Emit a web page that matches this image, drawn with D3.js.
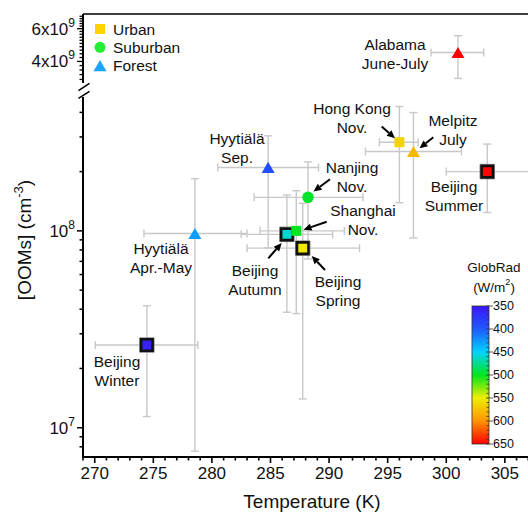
<!DOCTYPE html>
<html>
<head>
<meta charset="utf-8">
<script src="https://cdn.jsdelivr.net/npm/d3@7"></script>
<style>
  html, body { margin: 0; padding: 0; background: #fff; }
  svg { display: block; font-family: "Liberation Sans", Arial, sans-serif; }
</style>
</head>
<body>
<svg id="chart" width="528" height="513"></svg>
<script>
// ---- data ----
const sites      = ["Beijing Winter", "Hyytiälä Apr.-May", "Hyytiälä Sep.", "Beijing Autumn", "Shanghai Nov.", "Nanjing Nov.", "Beijing Spring", "Hong Kong Nov.", "Melpitz July", "Beijing Summer", "Alabama June-July"];
const siteType   = ["urban", "forest", "forest", "urban", "urban", "suburban", "urban", "urban", "forest", "urban", "forest"];
const boxed      = [true, false, false, true, false, false, true, false, false, true, false];
const temperature = [274.45, 278.55, 284.8, 286.4, 287.2, 288.2, 287.75, 296.0, 297.2, 303.5, 301.0];
const tempLow     = [270.05, 274.2, 280.5, 282.5, 284.1, 283.6, 283.0, 294.3, 293.1, 300.0, 298.7];
const tempHigh    = [278.8, 283.0, 289.1, 290.3, 291.3, 292.9, 292.6, 297.6, 301.3, 307.5, 303.2];
const ooms        = [2.63e7, 9.7e7, 2.1e8, 9.6e7, 1.0e8, 1.48e8, 8.17e7, 2.82e8, 2.53e8, 2.0e8, 4.47e9];
const oomsLow     = [1.14e7, 7.6e6, 8.2e7, 3.86e7, 3.8e7, 7.2e7, 1.4e7, 1.39e8, 9.2e7, 1.24e8, 3.24e9];
const oomsHigh    = [4.16e7, 1.84e8, 3.04e8, 1.52e8, 1.6e8, 2.24e8, 1.38e8, 4.28e8, 3.99e8, 2.76e8, 5.5e9];
const globRad     = [360, 428, 390, 460, 500, 498, 552, 565, 580, 648, 650];

// annotation text, two lines per site
const labelLines = [["Beijing", "Winter"], ["Hyytiälä", "Apr.-May"], ["Hyytiälä", "Sep."], ["Beijing", "Autumn"], ["Shanghai", "Nov."], ["Nanjing", "Nov."], ["Beijing", "Spring"], ["Hong Kong", "Nov."], ["Melpitz", "July"], ["Beijing", "Summer"], ["Alabama", "June-July"]];

const xTicks = [270, 275, 280, 285, 290, 295, 300, 305];
const yLowTicks = [1e7, 1e8];
const yHighTicks = [4e9, 6e9];
const radTicks = [350, 400, 450, 500, 550, 600, 650];
const radStops = ["#3c14ff", "#1e5aff", "#00d2ff", "#00e61e", "#f0ee00", "#ff9400", "#ff0000"];
const legendNames = ["Urban", "Suburban", "Forest"];
const legendTypes = ["urban", "suburban", "forest"];
const legendColors = ["#ffd200", "#22ee33", "#18a4ff"];

// ---- layout ----
const svg = d3.select("#chart");
const plotLeft = 83, plotBottom = 457, plotTop = 14, plotRight = 540;
const breakTop = 82, breakBottom = 95;

const x = d3.scaleLinear().domain([269, 308]).range([plotLeft, plotRight]);
const yLow = d3.scaleLog().domain([7.1e6, 4.9e8]).range([plotBottom, breakBottom]);
const yHigh = d3.scaleLog().domain([3.1e9, 7.2e9]).range([breakTop, plotTop]);
const y = v => v >= 2e9 ? yHigh(v) : yLow(v);
const color = d3.scaleLinear().domain(radTicks).range(radStops).interpolate(d3.interpolateRgb);

const idx = d3.range(sites.length);

// ---- error bars ----
const eb = svg.append("g").attr("stroke", "#c8c8c8").attr("stroke-width", 1.4).attr("fill", "none");
const cap = 4;
idx.forEach(i => {
  const cx = x(temperature[i]), cy = y(ooms[i]);
  const x0 = x(tempLow[i]), x1 = x(tempHigh[i]);
  const y0 = y(oomsLow[i]), y1 = y(oomsHigh[i]);
  eb.append("line").attr("x1", x0).attr("x2", x1).attr("y1", cy).attr("y2", cy);
  eb.append("line").attr("x1", x0).attr("x2", x0).attr("y1", cy - cap).attr("y2", cy + cap);
  eb.append("line").attr("x1", x1).attr("x2", x1).attr("y1", cy - cap).attr("y2", cy + cap);
  eb.append("line").attr("x1", cx).attr("x2", cx).attr("y1", y0).attr("y2", y1);
  eb.append("line").attr("x1", cx - cap).attr("x2", cx + cap).attr("y1", y0).attr("y2", y0);
  eb.append("line").attr("x1", cx - cap).attr("x2", cx + cap).attr("y1", y1).attr("y2", y1);
});

// ---- markers ----
function shapePath(type, s) {
  if (type === "urban") return `M${-s/2},${-s/2}h${s}v${s}h${-s}Z`;
  if (type === "suburban") { const r = s / 2; return `M${r},0A${r},${r} 0 1,1 ${-r},0A${r},${r} 0 1,1 ${r},0Z`; }
  const h = s * 0.86;
  return `M0,${-h/2}L${s/2},${h/2}L${-s/2},${h/2}Z`;
}
const mk = svg.append("g");
idx.forEach(i => {
  const g = mk.append("g").attr("transform", `translate(${x(temperature[i])},${y(ooms[i])})`);
  if (boxed[i]) {
    g.append("path").attr("d", shapePath("urban", 14.5)).attr("fill", "none").attr("stroke", "#8a8a8a").attr("stroke-width", 1);
    g.append("path").attr("d", shapePath("urban", 11.5)).attr("fill", color(globRad[i])).attr("stroke", "#111").attr("stroke-width", 2.6);
  } else {
    const size = siteType[i] === "urban" ? 10 : (siteType[i] === "suburban" ? 11.5 : 13);
    g.append("path").attr("d", shapePath(siteType[i], size)).attr("fill", color(globRad[i]));
  }
});

// ---- annotations ----
const labelPos = [[117, 361], [161, 248], [237, 138], [255, 270], [363, 210], [352, 167], [338, 281], [352, 108], [453, 120], [454, 186], [395, 44]];
const ann = svg.append("g").attr("font-size", "15.5px").attr("fill", "#111").attr("text-anchor", "middle");
idx.forEach(i => {
  const t = ann.append("text").attr("x", labelPos[i][0]).attr("y", labelPos[i][1]).attr("dominant-baseline", "central");
  labelLines[i].forEach((ln, k) => t.append("tspan").attr("x", labelPos[i][0]).attr("dy", k === 0 ? 0 : 19).text(ln));
});

// arrows: [tail, head] in pixels
const arrows = [
  [[268.3, 258.3], [281.7, 243]],
  [[326.7, 221.7], [303.5, 229.7]],
  [[330, 179.3], [313.5, 191.5]],
  [[325, 270], [311.7, 256]],
  [[381.7, 126.5], [395, 138.3]],
  [[433.3, 137.3], [419.5, 148.3]]
];
const ar = svg.append("g");
arrows.forEach(([a, b]) => {
  const dx = b[0] - a[0], dy = b[1] - a[1], L = Math.hypot(dx, dy);
  const ux = dx / L, uy = dy / L, hl = 8, hw = 3.6;
  const bx = b[0] - ux * hl, by = b[1] - uy * hl;
  ar.append("line").attr("x1", a[0]).attr("y1", a[1]).attr("x2", bx).attr("y2", by).attr("stroke", "#000").attr("stroke-width", 2);
  ar.append("path").attr("d", `M${b[0]},${b[1]}L${bx - uy * hw},${by + ux * hw}L${bx + uy * hw},${by - ux * hw}Z`).attr("fill", "#000");
});

// ---- axes ----
const axes = svg.append("g").attr("stroke", "#000");
// top frame line
axes.append("line").attr("x1", plotLeft).attr("x2", 528).attr("y1", plotTop).attr("y2", plotTop).attr("stroke-width", 1.6);
// bottom axis
axes.append("line").attr("x1", plotLeft - 1).attr("x2", 528).attr("y1", plotBottom).attr("y2", plotBottom).attr("stroke-width", 2);
d3.range(269, 309).forEach(v => {
  const major = xTicks.includes(v);
  axes.append("line").attr("x1", x(v)).attr("x2", x(v)).attr("y1", plotBottom).attr("y2", plotBottom + (major ? 6 : 3.5)).attr("stroke-width", 1.6);
});
// left axis, two segments with a break
axes.append("line").attr("x1", plotLeft).attr("x2", plotLeft).attr("y1", plotTop).attr("y2", breakTop + 1).attr("stroke-width", 2);
axes.append("line").attr("x1", plotLeft).attr("x2", plotLeft).attr("y1", breakBottom + 2).attr("y2", plotBottom + 1).attr("stroke-width", 2);
axes.append("line").attr("x1", 78.5).attr("y1", 90.7).attr("x2", 89.5).attr("y2", 83.3).attr("stroke-width", 1.6);
axes.append("line").attr("x1", 78.5).attr("y1", 98.3).attr("x2", 89.5).attr("y2", 91.3).attr("stroke-width", 1.6);

const lowMinor = [];
[1e6, 1e7, 1e8].forEach(d => d3.range(1, 10).forEach(m => { const v = m * d; if (v >= 7.2e6 && v <= 4.8e8) lowMinor.push(v); }));
lowMinor.forEach(v => {
  const major = yLowTicks.includes(v);
  axes.append("line").attr("x1", plotLeft).attr("x2", plotLeft - (major ? 6 : 3.5)).attr("y1", yLow(v)).attr("y2", yLow(v)).attr("stroke-width", 1.5);
});
d3.range(16, 36).map(k => k * 0.2e9).forEach(v => {
  const major = yHighTicks.some(t => Math.abs(t - v) < 1e6);
  axes.append("line").attr("x1", plotLeft).attr("x2", plotLeft - (major ? 6 : 3.5)).attr("y1", yHigh(v)).attr("y2", yHigh(v)).attr("stroke-width", 1.3);
});

// tick labels
const tl = svg.append("g").attr("font-size", "17px").attr("fill", "#111");
xTicks.forEach(v => tl.append("text").attr("x", x(v)).attr("y", 479).attr("text-anchor", "middle").text(v));
function powLabel(v, yy) {
  const e = Math.floor(Math.log10(v) + 1e-9), m = Math.round(v / Math.pow(10, e));
  const t = tl.append("text").attr("x", 75).attr("y", yy + 6).attr("text-anchor", "end");
  t.append("tspan").text(m === 1 ? "10" : `${m}x10`);
  t.append("tspan").attr("font-size", "12px").attr("dy", -8).text(e);
}
yLowTicks.forEach(v => powLabel(v, yLow(v)));
yHighTicks.forEach(v => powLabel(v, yHigh(v)));

// axis titles
svg.append("text").attr("x", 312).attr("y", 508).attr("text-anchor", "middle").attr("font-size", "19px").attr("fill", "#111").text("Temperature (K)");
const yt = svg.append("text").attr("transform", "translate(31,240) rotate(-90)").attr("text-anchor", "middle").attr("font-size", "19px").attr("fill", "#111");
yt.append("tspan").text("[OOMs] (cm");
yt.append("tspan").attr("font-size", "13px").attr("dy", -8).text("-3");
yt.append("tspan").attr("dy", 8).text(")");

// ---- legend ----
const lg = svg.append("g");
legendNames.forEach((n, k) => {
  const cy = 29 + k * 18.3;
  lg.append("path").attr("transform", `translate(100,${cy})`).attr("d", shapePath(legendTypes[k], legendTypes[k] === "urban" ? 10 : (legendTypes[k] === "suburban" ? 11 : 13))).attr("fill", legendColors[k]);
  lg.append("text").attr("x", 113).attr("y", cy).attr("dominant-baseline", "central").attr("font-size", "15.5px").attr("fill", "#111").text(n);
});

// ---- colour bar ----
const cbX = 472, cbW = 17;
const cbY = d3.scaleLinear().domain([350, 650]).range([306, 444]);
const defs = svg.append("defs");
const grad = defs.append("linearGradient").attr("id", "rad").attr("x1", 0).attr("x2", 0).attr("y1", 0).attr("y2", 1);
radTicks.forEach((v, k) => grad.append("stop").attr("offset", (v - 350) / 300).attr("stop-color", radStops[k]));
svg.append("rect").attr("x", cbX).attr("y", cbY(350)).attr("width", cbW).attr("height", cbY(650) - cbY(350)).attr("fill", "url(#rad)").attr("stroke", "#333").attr("stroke-width", 0.8);
const cbt = svg.append("g").attr("stroke", "#333").attr("stroke-width", 0.8);
d3.range(350, 651, 10).forEach(v => {
  const major = v % 50 === 0;
  cbt.append("line").attr("x1", major ? cbX + cbW - 3 : cbX + cbW - 2.5).attr("x2", major ? cbX + cbW + 4 : cbX + cbW).attr("y1", cbY(v)).attr("y2", cbY(v));
});
const cbl = svg.append("g").attr("font-size", "12.5px").attr("fill", "#111");
radTicks.forEach(v => cbl.append("text").attr("x", 493).attr("y", cbY(v)).attr("dominant-baseline", "central").text(v));
svg.append("text").attr("x", 494).attr("y", 267).attr("text-anchor", "middle").attr("dominant-baseline", "central").attr("font-size", "13.5px").attr("fill", "#111").text("GlobRad");
const unit = svg.append("text").attr("x", 494).attr("y", 287).attr("text-anchor", "middle").attr("dominant-baseline", "central").attr("font-size", "13.5px").attr("fill", "#111");
unit.append("tspan").text("(W/m");
unit.append("tspan").attr("font-size", "9px").attr("dy", -5).text("2");
unit.append("tspan").attr("dy", 5).text(")");
</script>
</body>
</html>
